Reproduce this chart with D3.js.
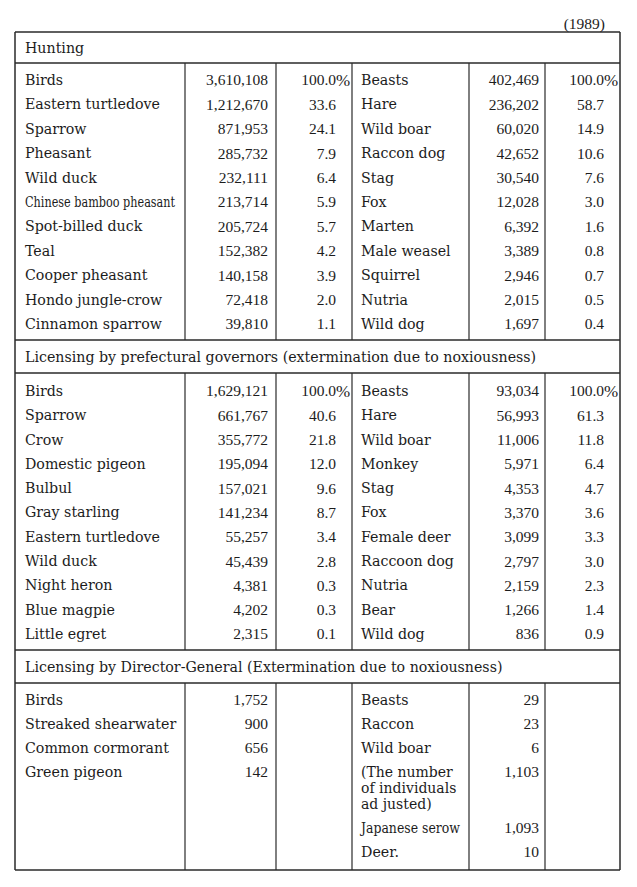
<!DOCTYPE html>
<html><head><meta charset="utf-8">
<script src="https://cdn.jsdelivr.net/npm/d3@7"></script>
<style>
html,body{margin:0;padding:0;background:#fff;}
svg{display:block;}
</style></head>
<body>
<svg id="chart" width="637" height="887"></svg>
<script>
// ---------- DATA ----------
const yearLabel = "(1989)";
const sectionTitles = [
  "Hunting",
  "Licensing by prefectural governors (extermination due to noxiousness)",
  "Licensing by Director-General (Extermination due to noxiousness)"
];

const huntBirdNames = ["Birds","Eastern turtledove","Sparrow","Pheasant","Wild duck","Chinese bamboo pheasant","Spot-billed duck","Teal","Cooper pheasant","Hondo jungle-crow","Cinnamon sparrow"];
const huntBirdCounts = [3610108,1212670,871953,285732,232111,213714,205724,152382,140158,72418,39810];
const huntBirdPcts = [100.0,33.6,24.1,7.9,6.4,5.9,5.7,4.2,3.9,2.0,1.1];
const huntBeastNames = ["Beasts","Hare","Wild boar","Raccon dog","Stag","Fox","Marten","Male weasel","Squirrel","Nutria","Wild dog"];
const huntBeastCounts = [402469,236202,60020,42652,30540,12028,6392,3389,2946,2015,1697];
const huntBeastPcts = [100.0,58.7,14.9,10.6,7.6,3.0,1.6,0.8,0.7,0.5,0.4];

const prefBirdNames = ["Birds","Sparrow","Crow","Domestic pigeon","Bulbul","Gray starling","Eastern turtledove","Wild duck","Night heron","Blue magpie","Little egret"];
const prefBirdCounts = [1629121,661767,355772,195094,157021,141234,55257,45439,4381,4202,2315];
const prefBirdPcts = [100.0,40.6,21.8,12.0,9.6,8.7,3.4,2.8,0.3,0.3,0.1];
const prefBeastNames = ["Beasts","Hare","Wild boar","Monkey","Stag","Fox","Female deer","Raccoon dog","Nutria","Bear","Wild dog"];
const prefBeastCounts = [93034,56993,11006,5971,4353,3370,3099,2797,2159,1266,836];
const prefBeastPcts = [100.0,61.3,11.8,6.4,4.7,3.6,3.3,3.0,2.3,1.4,0.9];

const dirBirdNames = ["Birds","Streaked shearwater","Common cormorant","Green pigeon"];
const dirBirdCounts = [1752,900,656,142];
const dirBeastNames = ["Beasts","Raccon","Wild boar","(The number\nof individuals\nad justed)","Japanese serow","Deer."];
const dirBeastCounts = [29,23,6,1103,1093,10];

// ---------- LAYOUT ----------
const svg = d3.select("#chart");
const ink = "#1c1c1c", lineCol = "#2a2a2a";
const textFont = "'DejaVu Serif',serif";
const numFont = "'Liberation Serif','Times New Roman',serif";
const nameSize = 14.2, numSize = 15.5;
const fmt = d3.format(",");
const pctFmt = d3.format(".1f");
const condensed = {"Chinese bamboo pheasant":150, "Japanese serow":99, "Deer.":38};

const L = 15, R = 620;
const colX = {nameL:25, cntL:268, pctL:336, v1:185, v2:276, v3:352, nameR:361, v4:469, cntR:539, v5:545, pctR:604};
const hLines = [32, 63, 340, 373, 650, 683, 870];
const sections = [
  {title:sectionTitles[0], top:32, hdrBot:63, bot:340},
  {title:sectionTitles[1], top:340, hdrBot:373, bot:650},
  {title:sectionTitles[2], top:650, hdrBot:683, bot:870}
];

const g = svg.append("g");

g.selectAll("line.h").data(hLines).join("line")
  .attr("x1", L).attr("x2", R).attr("y1", d=>d).attr("y2", d=>d)
  .attr("stroke", lineCol).attr("stroke-width", 1.5);
g.selectAll("line.o").data([L,R]).join("line").attr("class","o")
  .attr("x1", d=>d).attr("x2", d=>d).attr("y1", 32).attr("y2", 870)
  .attr("stroke", lineCol).attr("stroke-width", 1.5);
sections.forEach(s=>{
  [colX.v1,colX.v2,colX.v3,colX.v4,colX.v5].forEach(x=>{
    g.append("line").attr("x1",x).attr("x2",x).attr("y1",s.hdrBot).attr("y2",s.bot)
      .attr("stroke",lineCol).attr("stroke-width",1.2);
  });
  g.append("text").attr("x",colX.nameL).attr("y",(s.top+s.hdrBot)/2+1)
    .attr("dy","0.35em").attr("font-family",textFont).attr("font-size",nameSize)
    .attr("fill",ink).text(s.title);
});

g.append("text").attr("x",605).attr("y",24).attr("dy","0.35em").attr("text-anchor","end")
  .attr("font-family",numFont).attr("font-size",15.5).attr("fill",ink).text(yearLabel);

function drawCol(names, counts, pcts, y, xName, xCnt, xPct){
  names.forEach((n,i)=>{
    const lines = n.split("\n");
    const t = g.append("text").attr("dy","0.35em")
      .attr("font-family",textFont).attr("font-size",nameSize).attr("fill",ink);
    if(lines.length>1){
      t.attr("x",xName).attr("y",y(i)).attr("font-size",14);
      lines.forEach((ln,k)=>t.append("tspan").attr("x",xName).attr("dy",k===0?"0.35em":"16").text(ln));
    } else if(condensed[n]){
      t.text(n).attr("x",0).attr("y",0);
      const w = t.node().getComputedTextLength();
      t.attr("transform",`translate(${xName},${y(i)}) scale(${condensed[n]/w},1)`);
    } else {
      t.attr("x",xName).attr("y",y(i)).text(n);
    }
    g.append("text").attr("x",xCnt).attr("y",y(i)).attr("dy","0.35em").attr("text-anchor","end")
      .attr("font-family",numFont).attr("font-size",numSize).attr("fill",ink).text(fmt(counts[i]));
    if(pcts){
      g.append("text").attr("x",xPct).attr("y",y(i)).attr("dy","0.35em").attr("text-anchor","end")
        .attr("font-family",numFont).attr("font-size",numSize).attr("fill",ink).text(pctFmt(pcts[i]));
      if(i===0){
        g.append("text").attr("x",xPct).attr("y",y(i)).attr("dy","0.35em")
          .attr("font-family",numFont).attr("font-size",numSize+1.5).attr("fill",ink).text("%");
      }
    }
  });
}

const y1 = d3.scaleLinear().domain([0,10]).range([80,324]);
const y2 = d3.scaleLinear().domain([0,10]).range([391,634]);
const y3 = d3.scaleLinear().domain([0,3]).range([700,772]);
const y3b = i => i<=3 ? y3(i) : y3(3) + 56 + (i-4)*24;

drawCol(huntBirdNames, huntBirdCounts, huntBirdPcts, y1, colX.nameL, colX.cntL, colX.pctL);
drawCol(huntBeastNames, huntBeastCounts, huntBeastPcts, y1, colX.nameR, colX.cntR, colX.pctR);
drawCol(prefBirdNames, prefBirdCounts, prefBirdPcts, y2, colX.nameL, colX.cntL, colX.pctL);
drawCol(prefBeastNames, prefBeastCounts, prefBeastPcts, y2, colX.nameR, colX.cntR, colX.pctR);
drawCol(dirBirdNames, dirBirdCounts, null, y3, colX.nameL, colX.cntL, null);
drawCol(dirBeastNames, dirBeastCounts, null, y3b, colX.nameR, colX.cntR, null);
</script>
</body></html>
